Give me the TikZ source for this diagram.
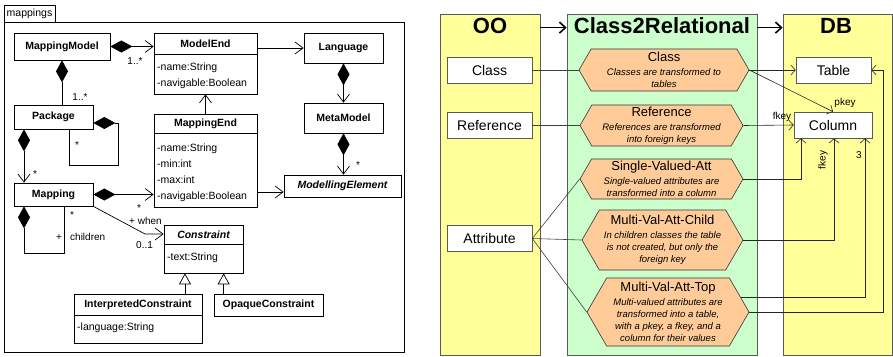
\documentclass[tikz,border=0pt]{standalone}
\usepackage{fontspec}
\setmainfont{Liberation Sans}
\usetikzlibrary{arrows.meta,shapes.symbols}
\definecolor{ooyellow}{RGB}{255,255,153}
\definecolor{trgreen}{RGB}{204,255,204}
\definecolor{hexorange}{RGB}{255,204,153}
\definecolor{rimgray}{RGB}{90,90,90}
\newcommand{\umlfont}{\fontsize{10.5}{16}\selectfont}
\newcommand{\hexttl}{\fontsize{13}{15}\selectfont\upshape}
\newcommand{\hexdsc}{\fontsize{9.5}{12}\selectfont\itshape}
\tikzstyle{cls}=[draw,line width=0.7pt,inner sep=0pt,font=\umlfont\bfseries]
\tikzstyle{cname}=[inner sep=0pt,font=\umlfont\bfseries]
\tikzstyle{attr}=[anchor=north west,inner sep=0pt,align=left,font=\umlfont]
\tikzstyle{mult}=[inner sep=0pt,font=\fontsize{10}{12}\selectfont]
\tikzstyle{assoc}=[draw,line width=0.7pt,-{Straight Barb[length=8pt,width=12pt]}]
\tikzstyle{comp}=[draw,line width=0.7pt,{Diamond[length=22pt,width=12pt]}-]
\tikzstyle{compnav}=[draw,line width=0.7pt,{Diamond[length=22pt,width=12pt]}-{Straight Barb[length=8pt,width=12pt]}]
\tikzstyle{gen}=[draw,line width=0.7pt,-{Triangle[open,length=11pt,width=12pt]}]
\tikzstyle{colbox}=[draw=rimgray,line width=0.8pt,inner sep=0pt,minimum height=341pt]
\tikzstyle{ttl}=[inner sep=0pt,font=\fontsize{22}{25}\selectfont\bfseries]
\tikzstyle{oobox}=[draw=rimgray,fill=white,line width=0.6pt,minimum height=26pt,inner sep=0pt,font=\fontsize{14}{16}\selectfont]
\tikzstyle{hex}=[signal,signal to=east and west,signal pointer angle=120,draw=black!80,fill=hexorange,line width=0.6pt,inner sep=1pt,align=center,font=\hexdsc]
\tikzstyle{oolink}=[draw=black!75,line width=0.6pt]
\tikzstyle{dbarrow}=[draw=black!85,line width=0.6pt,-{Straight Barb[length=4.5pt,width=10pt]}]
\tikzstyle{colarrow}=[draw,line width=1.6pt,-{Straight Barb[length=6pt,width=11pt]}]
\tikzstyle{keylbl}=[inner sep=0pt,font=\fontsize{10}{12}\selectfont]

\begin{document}
\begin{tikzpicture}[x=1pt,y=-1pt]
\useasboundingbox (0,0) rectangle (893,356);
\node[draw,line width=0.6pt,inner sep=0pt,minimum width=51pt,minimum height=17pt,font=\umlfont] (tab) at (29.5,13.5) {mappings};
\draw[line width=0.8pt] (4,22) rectangle (404,352);

\node[cls,minimum width=96pt,minimum height=27pt] (MM) at (62,46.5) {MappingModel};
\node[cls,minimum width=79pt,minimum height=24pt] (P) at (53.5,117) {Package};
\node[cls,minimum width=79pt,minimum height=23pt] (Mg) at (53.5,194.5) {Mapping};
\node[cls,minimum width=79pt,minimum height=30pt] (L) at (343.5,48) {Language};
\node[cls,minimum width=79pt,minimum height=30pt] (MeM) at (343.5,118) {MetaModel};
\node[cls,minimum width=117pt,minimum height=22pt,font=\umlfont\bfseries\itshape] (MEl) at (342.5,186) {ModellingElement};
\node[cls,minimum width=109pt,minimum height=22pt] (OC) at (268.5,305) {OpaqueConstraint};

\node[cls,minimum width=103pt,minimum height=61pt] (ME) at (205.5,63.5) {};
\node[cname] (MEt) at (205.5,43.5) {ModelEnd};
\draw[line width=0.7pt] (ME.west |- 0,54) -- (ME.east |- 0,54);
\node[attr] (MEa) at (157,63) {-name:String\\-navigable:Boolean};

\node[cls,minimum width=103pt,minimum height=93pt] (MEn) at (205.5,160.5) {};
\node[cname] (MEnt) at (205.5,123.5) {MappingEnd};
\draw[line width=0.7pt] (MEn.west |- 0,133) -- (MEn.east |- 0,133);
\node[attr] (MEna) at (157,144) {-name:String\\-min:int\\-max:int\\-navigable:Boolean};

\node[cls,minimum width=79pt,minimum height=48pt] (C) at (203.5,249) {};
\node[cname,font=\umlfont\bfseries\itshape] (Ct) at (203.5,234.5) {Constraint};
\draw[line width=0.7pt] (C.west |- 0,244) -- (C.east |- 0,244);
\node[attr] (Ca) at (167,253) {-text:String};

\node[cls,minimum width=128pt,minimum height=49pt] (IC) at (138,318.5) {};
\node[cname] (ICt) at (138,304.5) {InterpretedConstraint};
\draw[line width=0.7pt] (IC.west |- 0,315) -- (IC.east |- 0,315);
\node[attr] (ICa) at (77,323) {-language:String};

\draw[compnav] (MM.east) -- (MM.east -| ME.west);
\node[mult] (m1) at (135,61) {1..*};
\draw[comp] (MM.south) -- (MM.south |- P.north);
\node[mult] (m2) at (80,97) {1..*};
\draw[assoc] (ME.east |- L.west) -- (L.west);
\draw[compnav] (L.south) -- (MeM.north);
\draw[assoc] (MEn.north) -- (ME.south);
\draw[compnav] (MeM.south) -- (MeM.south |- MEl.north);
\node[mult] (m3) at (358,165) {*};
\coordinate (meL) at ([yshift=-6pt]MEl.west);
\draw[assoc] (meL -| MEn.east) -- (meL);

\coordinate (pR) at ([yshift=-6pt]P.east);
\coordinate (pB) at ([xshift=15.5pt]P.south);
\draw[comp] (pR) -- ++(25,0) -- ++(0,42) -| (pB);
\node[mult] (m4) at (77,145) {*};
\coordinate (pL) at ([xshift=-29.5pt]P.south);
\draw[compnav] (pL) -- (pL |- Mg.north);
\node[mult] (m5) at (35,174) {*};
\draw[compnav] (Mg.east) -- (Mg.east -| MEn.west);
\node[mult] (m6) at (139,208) {*};
\coordinate (gL) at ([xshift=-29.5pt]Mg.south);
\coordinate (gR) at ([xshift=10.5pt]Mg.south);
\draw[comp] (gL) -- ++(0,47) -| (gR);
\node[mult] (m7) at (72,215) {*};
\node[mult] (m8) at (59,238) {+};
\node[mult,anchor=west] (m9) at (70,237) {children};
\coordinate (wk) at (145,234);
\draw[assoc] (Mg.south east) -- (wk) -- (wk -| C.west);
\node[mult,anchor=west] (m10) at (129,221) {+ when};
\node[mult,anchor=west] (m11) at (136,245) {0..1};
\coordinate (gi) at ([xshift=47pt]IC.north);
\draw[gen] (gi) -- (gi |- C.south);
\coordinate (go) at ([xshift=10pt]OC.north west);
\draw[gen] (go) -- (go |- C.south);

\node[colbox,fill=ooyellow,minimum width=100pt] (OO) at (490,184.5) {};
\node[colbox,fill=trgreen,minimum width=190pt] (CR) at (662,184.5) {};
\node[colbox,fill=ooyellow,minimum width=109pt] (DB) at (837.5,184.5) {};
\node[ttl] (OOt) at (490,26) {OO};
\node[ttl] (CRt) at (662,26) {Class2Relational};
\node[ttl] (DBt) at (836,26) {DB};
\draw[colarrow] ([yshift=-14pt]OO.north east) -- ([yshift=-14pt]CR.north west);
\draw[colarrow] ([yshift=-14pt]CR.north east) -- ([yshift=-14pt]DB.north west);

\node[oobox,minimum width=85pt] (Cls) at (489.5,70) {Class};
\node[oobox,minimum width=85pt] (Ref) at (489.5,125.5) {Reference};
\node[oobox,minimum width=85pt] (Att) at (489.5,238.5) {Attribute};

\node[hex,minimum width=170pt,minimum height=42pt] (H1) at (664,70) {{\hexttl Class}\\[2pt]Classes are transformed to\\tables};
\node[hex,minimum width=163pt,minimum height=41pt] (H2) at (661.5,125.5) {{\hexttl Reference}\\[2pt]References are transformed\\into foreign keys};
\node[hex,minimum width=163pt,minimum height=40pt] (H3) at (661.5,179) {{\hexttl Single-Valued-Att}\\[2pt]Single-valued attributes are\\transformed into a column};
\node[hex,minimum width=161pt,minimum height=60pt] (H4) at (662.5,240) {{\hexttl Multi-Val-Att-Child}\\[2pt]In children classes the table\\is not created, but only the\\foreign key};
\node[hex,minimum width=162pt,minimum height=68pt] (H5) at (668,312) {{\hexttl Multi-Val-Att-Top}\\[2pt]Multi-valued attributes are\\transformed into a table,\\with a pkey, a fkey, and a\\column for their values};

\node[oobox,minimum width=75pt] (Tab) at (833.5,70) {Table};
\node[oobox,minimum width=78pt] (Col) at (833,125) {Column};

\draw[oolink] (Cls.east) -- (H1.west);
\draw[oolink] (Ref.east) -- (H2.west);
\draw[oolink] (Att.east) -- (H3.west);
\draw[oolink] (Att.east) -- (H4.west);
\draw[oolink] (Att.east) -- (H5.west);

\draw[dbarrow] (H1.east) -- (Tab.west);
\draw[dbarrow] (H1.east) -- (Col.north);
\node[keylbl] (pk) at (845,103) {pkey};
\draw[dbarrow] (H2.east) -- (Col.west);
\node[keylbl] (fk1) at (782,117) {fkey};
\draw[dbarrow] (H3.east) -| ([xshift=-32pt]Col.south);
\draw[dbarrow] (H4.east) -| ([xshift=1pt]Col.south);
\node[keylbl,rotate=90] (fk2) at (823,160) {fkey};
\draw[dbarrow] (H5.11) -| ([xshift=32pt]Col.south);
\node[keylbl] (n3) at (859,155) {3};
\coordinate (tR) at ([xshift=12pt]Tab.east);
\draw[dbarrow] (H5.east) -- (tR |- H5.east) |- (Tab.east);
\end{tikzpicture}
\end{document}
